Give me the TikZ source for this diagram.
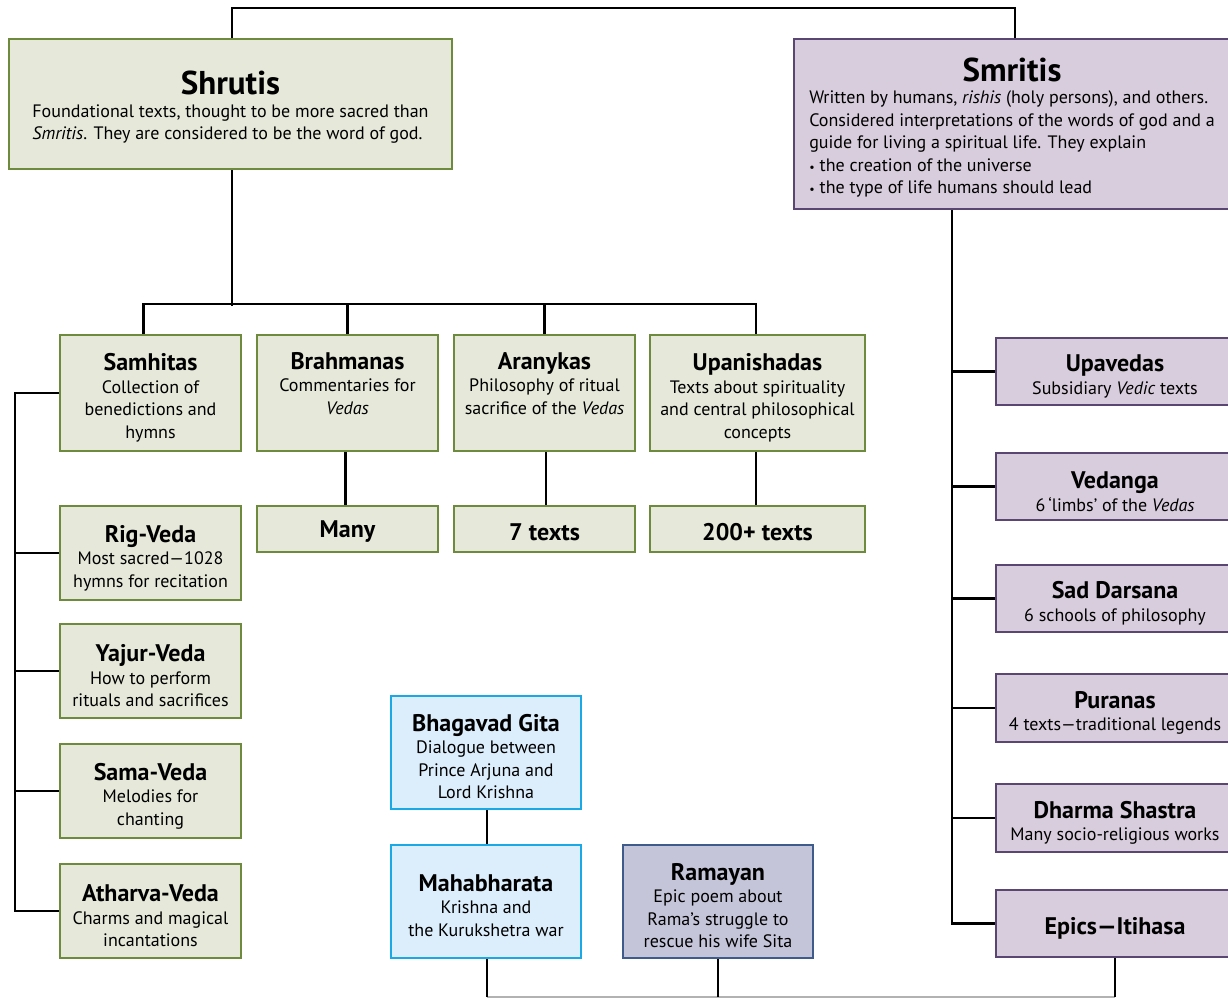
\documentclass[tikz,border=0pt]{standalone}
\usepackage{fontspec}
\setmainfont{PT Sans}
\definecolor{gfill}{HTML}{E6E8DA}
\definecolor{gline}{HTML}{6E8B3D}
\definecolor{pfill}{HTML}{D8CDDC}
\definecolor{pline}{HTML}{5B4673}
\definecolor{bfill}{HTML}{DCEEFC}
\definecolor{bline}{HTML}{1BA9E6}
\definecolor{rfill}{HTML}{C5C5DA}
\definecolor{rline}{HTML}{3E5B8C}
\newcommand{\bigT}{\fontsize{33}{34}\selectfont\bfseries}
\newcommand{\midT}{\fontsize{24}{26}\selectfont\bfseries}
\newcommand{\bodyT}{\fontsize{18}{22.5}\selectfont}
\newcommand{\bul}{{\fontsize{12}{12}\selectfont •}\hspace{5pt}}
\tikzset{
  x=1pt, y=-1pt,
  base/.style={inner sep=0pt, line width=2.6pt},
  txt/.style={inner sep=0pt, align=center, font=\bodyT, yshift=-5pt},
  gbox/.style={base, draw=gline, fill=gfill},
  pbox/.style={base, draw=pline, fill=pfill},
  bbox/.style={base, draw=bline, fill=bfill},
  rbox/.style={base, draw=rline, fill=rfill},
  conn/.style={draw=black, line width=2.4pt},
  grayconn/.style={draw=black!30, line width=2pt}
}
\newcommand{\bx}[6]{% style, name, x, y, w, h ; text follows as #7 via \bxtext
  \node[#1, minimum width=#5, minimum height=#6] (#2) at (#3,#4) {};}
\begin{document}
\begin{tikzpicture}
\clip (0,0) rectangle (1228,999);
\fill[white] (0,0) rectangle (1228,999);

% main boxes
\node[gbox, minimum width=443, minimum height=130, label={[txt]center:{{\bigT Shrutis}\\\begin{tabular}[t]{@{}l@{}}Foundational texts, thought to be more sacred than\\ \textit{Smritis}. They are considered to be the word of god.\end{tabular}}}] (shrutis) at (230.5,104) {};
\node[pbox, minimum width=442, minimum height=170, label={[txt, xshift=-3pt]center:{{\bigT Smritis}\\\begin{tabular}[t]{@{}l@{}}Written by humans, \textit{rishis} (holy persons), and others.\\ Considered interpretations of the words of god and a\\ guide for living a spiritual life. They explain\\ \bul the creation of the universe\\ \bul the type of life humans should lead\end{tabular}}}] (smritis) at (1015,124) {};

% second level Shrutis
\node[gbox, minimum width=181, minimum height=116, label={[txt]center:{{\midT Samhitas}\\ Collection of\\ benedictions and\\ hymns}}] (samhitas) at (150.5,393) {};
\node[gbox, minimum width=181, minimum height=116, label={[txt]center:{{\midT Brahmanas}\\ Commentaries for\\ \textit{Vedas}\\ \strut}}] (brahmanas) at (347.5,393) {};
\node[gbox, minimum width=181, minimum height=116, label={[txt]center:{{\midT Aranykas}\\ Philosophy of ritual\\ sacrifice of the \textit{Vedas}\\ \strut}}] (aranykas) at (544.5,393) {};
\node[gbox, minimum width=215, minimum height=116, label={[txt]center:{{\midT Upanishadas}\\ Texts about spirituality\\ and central philosophical\\ concepts}}] (upanishadas) at (757.5,393) {};

\node[gbox, minimum width=181, minimum height=46, label={[txt, yshift=2pt]center:{\midT Many}}] (many) at (347.5,529) {};
\node[gbox, minimum width=181, minimum height=46, label={[txt, yshift=2pt]center:{\midT 7 texts}}] (seven) at (544.5,529) {};
\node[gbox, minimum width=215, minimum height=46, label={[txt, yshift=2pt]center:{\midT 200+ texts}}] (twohundred) at (757.5,529) {};

% Vedas
\node[gbox, minimum width=181, minimum height=94, label={[txt]center:{{\midT Rig-Veda}\\ Most sacred—1028\\ hymns for recitation}}] (rig) at (150.5,553) {};
\node[gbox, minimum width=181, minimum height=94, label={[txt]center:{{\midT Yajur-Veda}\\ How to perform\\ rituals and sacrifices}}] (yajur) at (150.5,671) {};
\node[gbox, minimum width=181, minimum height=94, label={[txt]center:{{\midT Sama-Veda}\\ Melodies for\\ chanting}}] (sama) at (150.5,791) {};
\node[gbox, minimum width=181, minimum height=94, label={[txt]center:{{\midT Atharva-Veda}\\ Charms and magical\\ incantations}}] (atharva) at (150.5,911) {};

% Smritis children
\node[pbox, minimum width=238, minimum height=67, label={[txt]center:{{\midT Upavedas}\\ Subsidiary \textit{Vedic} texts}}] (upavedas) at (1115,371.5) {};
\node[pbox, minimum width=238, minimum height=67, label={[txt]center:{{\midT Vedanga}\\ 6\,‘limbs’ of the \textit{Vedas}}}] (vedanga) at (1115,486.5) {};
\node[pbox, minimum width=238, minimum height=67, label={[txt]center:{{\midT Sad Darsana}\\ 6 schools of philosophy}}] (sad) at (1115,598.5) {};
\node[pbox, minimum width=238, minimum height=68, label={[txt]center:{{\midT Puranas}\\ 4 texts—traditional legends}}] (puranas) at (1115,708) {};
\node[pbox, minimum width=238, minimum height=68, label={[txt]center:{{\midT Dharma Shastra}\\ Many socio-religious works}}] (dharma) at (1115,818) {};
\node[pbox, minimum width=238, minimum height=67, label={[txt]center:{\midT Epics—Itihasa}}] (epics) at (1115,923.5) {};

% Epics
\node[bbox, minimum width=190, minimum height=113, label={[txt, yshift=1pt]center:{{\midT Bhagavad Gita}\\ Dialogue between\\ Prince Arjuna and\\ Lord Krishna}}] (gita) at (486,752.5) {};
\node[bbox, minimum width=190, minimum height=113, label={[txt, yshift=1pt]center:{{\midT Mahabharata}\\ Krishna and\\ the Kurukshetra war}}] (maha) at (486,901.5) {};
\node[rbox, minimum width=190, minimum height=113, label={[txt, yshift=1pt]center:{{\midT Ramayan}\\ Epic poem about\\ Rama’s struggle to\\ rescue his wife Sita}}] (ramayan) at (718,901.5) {};

% connectors
\draw[conn] ([xshift=1.5pt]shrutis.north) -- ++(0,-30) -| (smritis.north);
\coordinate (bus) at (0,305);
\draw[conn] ([xshift=1.5pt]shrutis.south) -- ++(0,136);
\draw[conn] ([xshift=-7pt]samhitas.north) -- ++(0,-30) -| ([xshift=-1.5pt]upanishadas.north);
\draw[conn] (brahmanas.north) -- (brahmanas.north |- bus);
\draw[conn] (aranykas.north) -- (aranykas.north |- bus);
\draw[conn] ([xshift=-2pt]brahmanas.south) -- ([xshift=-2pt]many.north);
\draw[conn] ([xshift=1.5pt]aranykas.south) -- ([xshift=1.5pt]seven.north);
\draw[conn] ([xshift=-1.5pt]upanishadas.south) -- ([xshift=-1.5pt]twohundred.north);

\coordinate (lt) at (15,0);
\draw[conn] (samhitas.west) -- (samhitas.west -| lt) |- (atharva.west);
\foreach \n in {rig,yajur,sama} \draw[conn] (\n.west) -- (\n.west -| lt);

\coordinate (rt) at (952,0);
\draw[conn] (smritis.south -| rt) |- (epics.west);
\foreach \n in {upavedas,vedanga,sad,puranas,dharma} \draw[conn] (\n.west) -- (\n.west -| rt);

\draw[conn] ([xshift=1pt]gita.south) -- ([xshift=1pt]maha.north);
\coordinate (bot) at (0,997);
\draw[grayconn] ([xshift=1pt]maha.south |- bot) -- (epics.south |- bot);
\draw[conn] ([xshift=1pt]maha.south) -- ([xshift=1pt]maha.south |- bot);
\draw[conn] (ramayan.south) -- (ramayan.south |- bot);
\draw[conn] (epics.south) -- (epics.south |- bot);
\end{tikzpicture}
\end{document}
